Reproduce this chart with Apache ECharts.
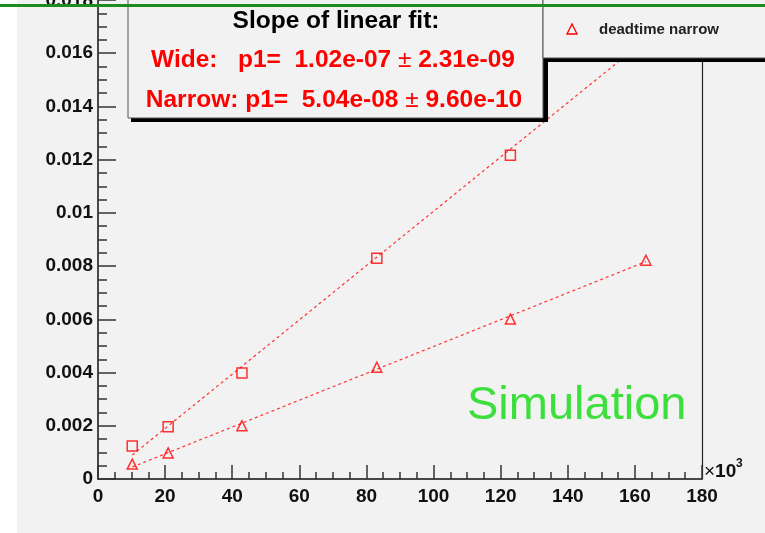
<!DOCTYPE html>
<html>
<head>
<meta charset="utf-8">
<script src="https://cdn.jsdelivr.net/npm/echarts@6/dist/echarts.min.js"></script>
<style>html,body{margin:0;padding:0;background:#fff}#c{width:765px;height:533px}</style>
</head>
<body>
<div id="c"></div>
<script>
// x values in units of 10^3
const xValues = [10.2, 20.9, 42.9, 83.1, 122.9, 163.3];
const wideY = [0.00124, 0.00196, 0.00398, 0.00830, 0.01217, 0.01660];
const narrowY = [0.00056, 0.00098, 0.00200, 0.00420, 0.00601, 0.00822];
const wideFitX = [10.2, 163.3];
const wideFitY = [0.00090, 0.01652];
const narrowFitX = [10.2, 163.3];
const narrowFitY = [0.00045, 0.00817];
const xRange = [0, 180];
const yRange = [0, 0.018];
const topTickLabel = '0.018';
const fitTitle = 'Slope of linear fit:';
const wideText = ['Wide:   p1=  1.02e-07 ', '\u00b1', ' 2.31e-09'];
const narrowText = ['Narrow: p1=  5.04e-08 ', '\u00b1', ' 9.60e-10'];
const legendLabel = 'deadtime narrow';
const simLabel = 'Simulation';

const zip = (a, b) => a.map((v, i) => [v, b[i]]);
const FONT = 'Liberation Sans, Arial, sans-serif';
const RED = '#ff0000';

const chart = echarts.init(document.getElementById('c'), null, {renderer: 'canvas'});
chart.setOption({
  animation: false,
  backgroundColor: '#f2f2f2',
  grid: {left: 98, right: 63, top: 0, bottom: 54},
  xAxis: {
    type: 'value', min: xRange[0], max: xRange[1], interval: 20,
    axisLine: {show: true, lineStyle: {color: '#111', width: 1.5}},
    axisTick: {show: true, inside: true, length: 14, lineStyle: {color: '#333', width: 1.5}},
    minorTick: {show: true, splitNumber: 4, length: 7, lineStyle: {color: '#333', width: 1.5}},
    splitLine: {show: false},
    axisLabel: {margin: 8, color: '#111', fontFamily: FONT, fontWeight: 'bold', fontSize: 19}
  },
  yAxis: [{
    type: 'value', min: yRange[0], max: yRange[1], interval: 0.002,
    axisLine: {show: true, lineStyle: {color: '#111', width: 1.5}},
    axisTick: {show: true, inside: true, length: 18, lineStyle: {color: '#333', width: 1.5}},
    minorTick: {show: true, splitNumber: 4, length: 9, lineStyle: {color: '#333', width: 1.5}},
    splitLine: {show: false},
    axisLabel: {margin: 5, color: '#111', fontFamily: FONT, fontWeight: 'bold', fontSize: 19, showMaxLabel: false,
      formatter: v => String(+v.toFixed(4))}
  }, {
    type: 'value', position: 'right', min: yRange[0], max: yRange[1],
    axisLine: {show: true, lineStyle: {color: '#222', width: 1.2}},
    axisTick: {show: false}, axisLabel: {show: false}, splitLine: {show: false}
  }],
  series: [
    {type: 'line', data: zip(wideFitX, wideFitY), showSymbol: false, silent: true,
     lineStyle: {color: '#ff3333', width: 1.2, type: [3, 3]}, z: 2},
    {type: 'line', data: zip(narrowFitX, narrowFitY), showSymbol: false, silent: true,
     lineStyle: {color: '#ff3333', width: 1.2, type: [3, 3]}, z: 2},
    {type: 'scatter', data: zip(xValues, wideY), symbol: 'rect', symbolSize: 10, silent: true,
     itemStyle: {color: 'rgba(0,0,0,0)', borderColor: RED, borderWidth: 1.5}, z: 3},
    {type: 'scatter', data: zip(xValues, narrowY), symbol: 'triangle', symbolSize: [10, 10], silent: true,
     itemStyle: {color: 'rgba(0,0,0,0)', borderColor: RED, borderWidth: 1.5}, z: 3}
  ],
  graphic: [
    {type: 'rect', z: 100, shape: {x: 0, y: 0, width: 17, height: 533}, style: {fill: '#ffffff'}},
    {type: 'text', z: 99, style: {text: topTickLabel, x: 93, y: 1, align: 'right', verticalAlign: 'middle', textAlign: 'right', textVerticalAlign: 'middle',
      fill: '#111', font: 'bold 19px ' + FONT}},
    // stats box shadow + box
    {type: 'rect', z: 101, shape: {x: 131, y: -10, width: 417, height: 132}, style: {fill: '#000'}},
    {type: 'rect', z: 102, shape: {x: 128, y: -10, width: 415, height: 128}, style: {fill: '#f2f2f2', stroke: '#555', lineWidth: 1}},
    {type: 'text', z: 103, style: {text: fitTitle, x: 336, y: 21, align: 'center', verticalAlign: 'middle', textAlign: 'center', textVerticalAlign: 'middle',
      fill: '#000', font: 'bold 24.5px ' + FONT}},
    {type: 'text', z: 103, style: {text: '{b|' + wideText[0] + '}{n|' + wideText[1] + '}{b|' + wideText[2] + '}', x: 333, y: 60,
      align: 'center', verticalAlign: 'middle', textAlign: 'center', textVerticalAlign: 'middle',
      rich: {b: {fill: RED, color: RED, font: 'bold 24.5px ' + FONT}, n: {fill: RED, color: RED, font: '24.5px ' + FONT}}}},
    {type: 'text', z: 103, style: {text: '{b|' + narrowText[0] + '}{n|' + narrowText[1] + '}{b|' + narrowText[2] + '}', x: 334, y: 100,
      align: 'center', verticalAlign: 'middle', textAlign: 'center', textVerticalAlign: 'middle',
      rich: {b: {fill: RED, color: RED, font: 'bold 24.5px ' + FONT}, n: {fill: RED, color: RED, font: '24.5px ' + FONT}}}},
    // legend box shadow + box
    {type: 'rect', z: 104, shape: {x: 546, y: -10, width: 230, height: 72}, style: {fill: '#000'}},
    {type: 'rect', z: 105, shape: {x: 543, y: -10, width: 230, height: 68}, style: {fill: '#f2f2f2', stroke: '#555', lineWidth: 1}},
    {type: 'polygon', z: 106, shape: {points: [[572, 24], [567, 34], [577, 34]]}, style: {fill: 'none', stroke: RED, lineWidth: 1.3}},
    {type: 'text', z: 106, style: {text: legendLabel, x: 599, y: 30, align: 'left', verticalAlign: 'middle', textAlign: 'left', textVerticalAlign: 'middle',
      fill: '#222', font: 'bold 15px ' + FONT}},
    // green top line
    {type: 'rect', z: 110, shape: {x: 0, y: 4, width: 765, height: 3}, style: {fill: '#1e8c1e'}},
    // Simulation label
    {type: 'text', z: 50, style: {text: simLabel, x: 467, y: 406, align: 'left', verticalAlign: 'middle', textAlign: 'left', textVerticalAlign: 'middle',
      fill: '#3ddf3d', font: '47px ' + FONT}},
    // x10^3
    {type: 'text', z: 50, style: {text: '{n|\u00d7}{b|10}', x: 704, y: 472, align: 'left', verticalAlign: 'middle', textAlign: 'left', textVerticalAlign: 'middle',
      rich: {n: {fill: '#111', color: '#111', font: '19px ' + FONT}, b: {fill: '#111', color: '#111', font: 'bold 19px ' + FONT}}}},
    {type: 'text', z: 50, style: {text: '3', x: 736, y: 464, align: 'left', verticalAlign: 'middle', textAlign: 'left', textVerticalAlign: 'middle',
      fill: '#111', font: 'bold 12px ' + FONT}}
  ]
});
</script>
</body>
</html>
